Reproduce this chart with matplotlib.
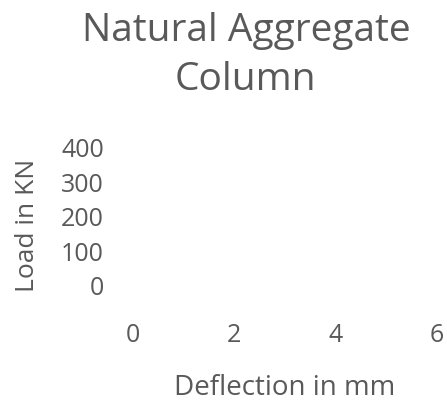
import matplotlib
matplotlib.use('Agg')
import matplotlib.pyplot as plt

# The source chart shows no plotted series, only the empty axes
deflection_mm = []
load_kn = []

x_ticks = [0, 2, 4, 6]
y_ticks = [0, 100, 200, 300, 400]

title = 'Natural Aggregate\nColumn'
x_label = 'Deflection in mm'
y_label = 'Load in KN'

grey = '#595959'
plt.rcParams['font.family'] = ['Open Sans', 'DejaVu Sans']

fig = plt.figure(figsize=(4.47, 4.02), dpi=100)
ax = fig.add_axes([0.2975, 0.2886, 0.680, 0.3433])

ax.plot(deflection_mm, load_kn, color='#4472C4')

ax.set_xlim(x_ticks[0], x_ticks[-1])
ax.set_ylim(y_ticks[0], y_ticks[-1])
ax.set_xticks(x_ticks)
ax.set_yticks(y_ticks)
ax.tick_params(axis='both', length=0, colors=grey, labelsize=18)
ax.tick_params(axis='x', pad=27)
ax.tick_params(axis='y', pad=21)
for side in ax.spines.values():
    side.set_visible(False)

ax.set_xlabel(x_label, color=grey, fontsize=20)
ax.xaxis.set_label_coords(0.5, -0.635)
ax.set_ylabel(y_label, color=grey, fontsize=19)
ax.yaxis.set_label_coords(-0.306, 0.438)
fig.text(0.550, 0.862, title, ha='center', va='center', color=grey,
         fontsize=28, linespacing=1.35)

fig.savefig('out.png', dpi=100)
